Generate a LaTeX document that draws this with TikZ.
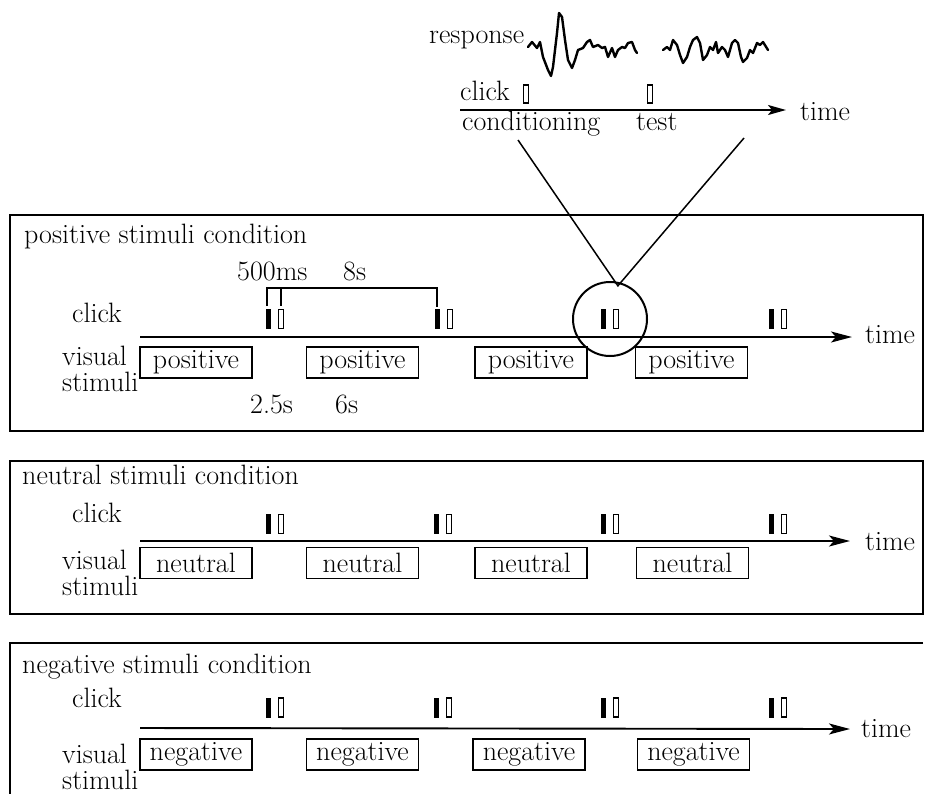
\documentclass[tikz,border=0pt]{standalone}
\usetikzlibrary{arrows.meta}
\tikzset{
  txt/.style={font=\fontsize{28}{32}\selectfont, inner sep=0pt, anchor=base west},
  twoline/.style={font=\fontsize{28}{#1}\selectfont, inner sep=0pt, anchor=north west, align=left},
  panel/.style={line width=1.9pt},
  timeaxis/.style={line width=1.9pt, -{Stealth[length=21pt,width=11pt,inset=5pt]}},
  stimbox/.style={draw, line width=1.6pt, minimum width=112pt, minimum height=31pt,
    inner sep=0pt, font=\fontsize{28}{32}\selectfont},
  clickon/.style={draw, fill=black, line width=1pt, minimum width=4pt, minimum height=19pt, inner sep=0pt},
  clickoff/.style={draw, fill=white, line width=1.2pt, minimum width=4.5pt, minimum height=19pt, inner sep=0pt},
  wave/.style={line width=2.4pt, line join=round, line cap=round},
  zoomline/.style={line width=1.5pt},
  bracket/.style={line width=1.5pt},
}
\begin{document}
\begin{tikzpicture}[x=1pt, y=-1pt]
\useasboundingbox (0,0) rectangle (925,793);

% ---------- inset: responses to conditioning and test clicks ----------
\node[txt] (resp) at (429,43) {response};
\draw[wave] plot coordinates {(528,47) (532,42) (537,48) (540,42) (543,57) (548,70) (551,76)
  (553,67) (557,33) (559,13) (562,17) (565,40) (568,60) (572,68) (575,60) (578,50) (583,48)
  (587,42) (590,40) (593,47) (598,45) (602,48) (605,47) (608,57) (612,48) (615,57) (618,50)
  (622,47) (625,48) (628,43) (632,42) (635,50) (637,53)};
\draw[wave] plot coordinates {(663,50) (667,47) (670,50) (673,40) (677,45) (680,55) (683,63)
  (687,57) (690,47) (693,40) (697,37) (700,43) (703,60) (707,55) (710,47) (713,50) (716,42)
  (718,53) (722,47) (725,50) (728,57) (732,43) (735,40) (738,43) (741,57) (743,62) (747,58)
  (750,50) (753,53) (757,43) (760,45) (763,42) (768,50)};
\node[txt] (clk0) at (460,100) {click};
\node[clickoff, minimum height=18pt] (cond0) at (526,94) {};
\node[clickoff, minimum height=18pt] (test0) at (650,94) {};
\coordinate (ax0s) at (460,110);
\coordinate (ax0e) at (786,110);
\draw[line width=1.9pt, -{Stealth[length=18pt,width=10pt,inset=4pt]}] (ax0s) -- (ax0e);
\node[txt] (time0) at (800,120) {time};
\node[txt] (condlbl) at (462,130) {conditioning};
\node[txt] (testlbl) at (636,130) {test};

% ---------- positive stimuli condition ----------
\draw[panel] (10,215) rectangle (923,431);
\node[txt] (title1) at (24,243) {positive stimuli condition};
\node[txt] (click1) at (72,322) {click};
\node[twoline=26pt] (vis1) at (62,345.5) {visual\\stimuli};
\coordinate (ax1s) at (140,337);
\coordinate (ax1e) at (852,337);
\draw[timeaxis] (ax1s) -- (ax1e);
\node[txt] (time1) at (865,343) {time};
\foreach \x [count=\i] in {268,437,603,771} {
  \node[clickon] (on1-\i) at (\x,319) {};
  \node[clickoff] (off1-\i) at (\x+13,319) {};
}
\foreach \x/\n in {196/1,362.5/2,531/3,691.5/4}
  \node[stimbox] (pos\n) at (\x,362.5) {positive};
% interval markers
\draw[bracket] (267,306) -- (267,288) -- (437,288) -- (437,307);
\draw[line width=2.6pt] (281,288) -- (281,306);
\node[txt] (ms500) at (237,280) {500ms};
\node[txt] (s8) at (343,280) {8s};
\node[txt] (s25) at (250,413) {2.5s};
\node[txt] (s6) at (335,413) {6s};
% magnified pair
\node[draw, circle, line width=2pt, minimum size=74pt, inner sep=0pt] (ring) at (610,319) {};
\coordinate (zl) at (518,140);
\coordinate (zr) at (744,138);
\draw[zoomline] (zl) -- ([yshift=-4pt]ring.78) -- (zr);

% ---------- neutral stimuli condition ----------
\draw[panel] (10,461) rectangle (923,614);
\node[txt] (title2) at (22,484) {neutral stimuli condition};
\node[txt] (click2) at (72,522) {click};
\node[twoline=26pt] (vis2) at (62,549.5) {visual\\stimuli};
\coordinate (ax2s) at (140,541);
\coordinate (ax2e) at (850,541);
\draw[timeaxis] (ax2s) -- (ax2e);
\node[txt] (time2) at (865,550) {time};
\foreach \x [count=\i] in {268,436,603,771} {
  \node[clickon] (on2-\i) at (\x,524) {};
  \node[clickoff] (off2-\i) at (\x+13,524) {};
}
\foreach \x/\n in {196/1,362.5/2,531/3,692.5/4}
  \node[stimbox] (neu\n) at (\x,563) {neutral};

% ---------- negative stimuli condition ----------
\draw[panel] (923,643) -- (10,643) -- (10,795);
\node[txt] (title3) at (22,673) {negative stimuli condition};
\node[txt] (click3) at (72,707) {click};
\node[twoline=26pt] (vis3) at (62,743.5) {visual\\stimuli};
\coordinate (ax3s) at (140,728);
\coordinate (ax3e) at (850,729);
\draw[timeaxis] (ax3s) -- (ax3e);
\node[txt] (time3) at (861,737) {time};
\foreach \x [count=\i] in {268,436,603,771} {
  \node[clickon] (on3-\i) at (\x,707.5) {};
  \node[clickoff] (off3-\i) at (\x+13,707.5) {};
}
\foreach \x/\n in {196/1,362.5/2,529/3,693.5/4}
  \node[stimbox] (neg\n) at (\x,754.5) {negative};
\end{tikzpicture}
\end{document}
